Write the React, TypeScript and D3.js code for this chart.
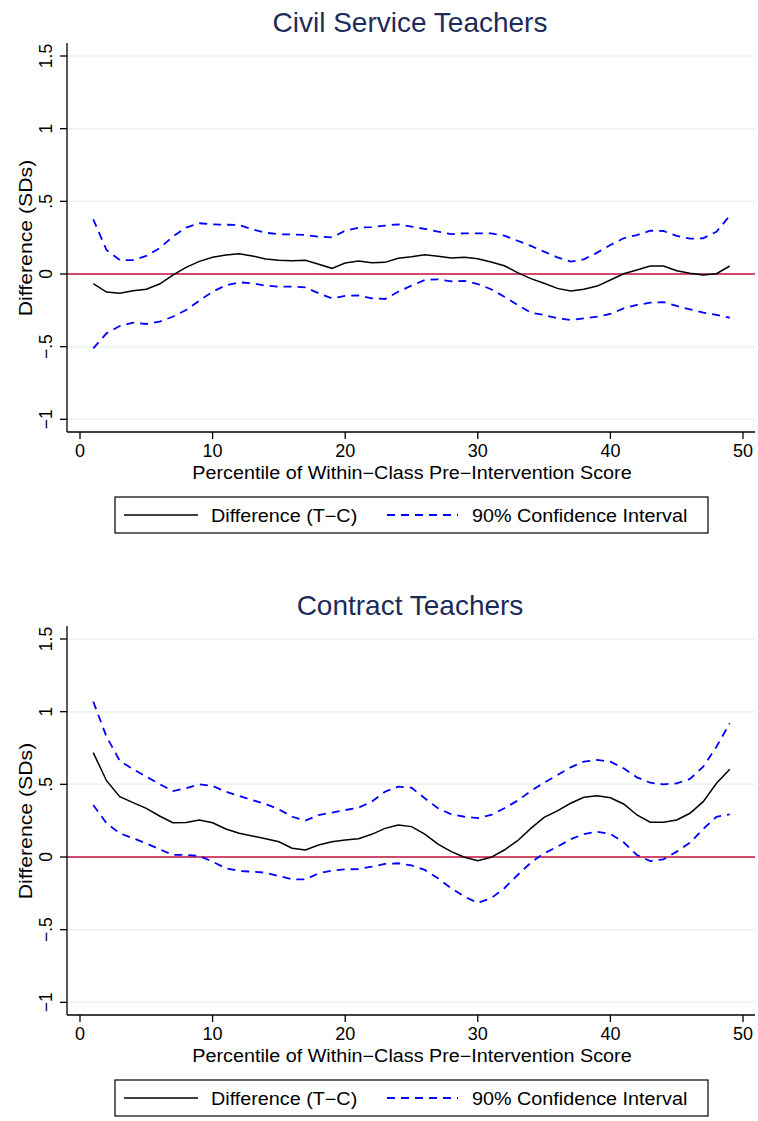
import React, { useEffect } from "react";
import * as d3 from "d3";

const percentiles = d3.range(1, 50);
const yTicks = [-1, -0.5, 0, 0.5, 1, 1.5];
const yTickLabels = ["\u22121", "\u2212.5", "0", ".5", "1", "1.5"];
const xTicks = [0, 10, 20, 30, 40, 50];

const civilDiff = [
  -0.067, -0.124, -0.133, -0.115, -0.105, -0.069, -0.007, 0.046, 0.087, 0.115,
  0.131, 0.14, 0.124, 0.103, 0.094, 0.092, 0.094, 0.067, 0.039, 0.076,
  0.089, 0.078, 0.08, 0.108, 0.119, 0.133, 0.122, 0.11, 0.115, 0.105,
  0.083, 0.057, 0.009, -0.032, -0.064, -0.099, -0.117, -0.105, -0.083, -0.041,
  0.002, 0.028, 0.055, 0.055, 0.023, 0.005, -0.007, 0.002, 0.055,
];
const civilUpper = [
  0.376, 0.165, 0.096, 0.096, 0.124, 0.177, 0.257, 0.319, 0.349, 0.342,
  0.339, 0.337, 0.307, 0.284, 0.273, 0.273, 0.268, 0.257, 0.252, 0.298,
  0.319, 0.323, 0.333, 0.342, 0.326, 0.31, 0.291, 0.275, 0.28, 0.28,
  0.28, 0.264, 0.229, 0.193, 0.154, 0.115, 0.085, 0.101, 0.147, 0.2,
  0.246, 0.268, 0.298, 0.296, 0.262, 0.243, 0.246, 0.291, 0.401,
];
const civilLower = [
  -0.512, -0.408, -0.358, -0.335, -0.344, -0.328, -0.294, -0.248, -0.184, -0.122,
  -0.078, -0.057, -0.064, -0.08, -0.087, -0.087, -0.092, -0.133, -0.167, -0.151,
  -0.147, -0.167, -0.172, -0.122, -0.08, -0.041, -0.037, -0.05, -0.048, -0.069,
  -0.105, -0.156, -0.213, -0.266, -0.282, -0.305, -0.317, -0.305, -0.294, -0.275,
  -0.236, -0.213, -0.197, -0.193, -0.22, -0.243, -0.266, -0.282, -0.301,
];

const contractDiff = [
  0.718, 0.525, 0.415, 0.374, 0.335, 0.282, 0.236, 0.238, 0.255, 0.236,
  0.193, 0.163, 0.145, 0.126, 0.105, 0.06, 0.048, 0.083, 0.105, 0.117,
  0.126, 0.156, 0.197, 0.22, 0.209, 0.158, 0.089, 0.037, -0.002, -0.025,
  -0.002, 0.048, 0.112, 0.197, 0.273, 0.317, 0.37, 0.411, 0.422, 0.408,
  0.365, 0.289, 0.239, 0.239, 0.255, 0.301, 0.381, 0.507, 0.604,
];
const contractUpper = [
  1.069, 0.828, 0.661, 0.604, 0.553, 0.502, 0.454, 0.473, 0.5, 0.489,
  0.449, 0.42, 0.392, 0.365, 0.328, 0.277, 0.25, 0.289, 0.305, 0.323,
  0.339, 0.381, 0.449, 0.484, 0.477, 0.404, 0.335, 0.294, 0.277, 0.268,
  0.289, 0.335, 0.388, 0.454, 0.511, 0.564, 0.617, 0.656, 0.668, 0.656,
  0.61, 0.548, 0.511, 0.5, 0.507, 0.537, 0.621, 0.759, 0.92,
];
const contractLower = [
  0.358, 0.232, 0.163, 0.129, 0.094, 0.053, 0.014, 0.014, 0.007, -0.032,
  -0.078, -0.096, -0.101, -0.108, -0.131, -0.154, -0.154, -0.112, -0.094, -0.085,
  -0.083, -0.067, -0.048, -0.043, -0.058, -0.089, -0.147, -0.215, -0.273, -0.315,
  -0.284, -0.215, -0.124, -0.039, 0.025, 0.071, 0.122, 0.158, 0.174, 0.158,
  0.101, 0.014, -0.028, -0.016, 0.037, 0.098, 0.193, 0.277, 0.294,
];

const legendLabels = ["Difference (T\u2212C)", "90% Confidence Interval"];
const xTitle = "Percentile of Within\u2212Class Pre\u2212Intervention Score";
const yTitle = "Difference (SDs)";

const FONT = "'Liberation Sans', Arial, Helvetica, sans-serif";
const TITLE_COLOR = "#1c2b58";
const GRID = "#eaf1f3";
const SX = 1.13;

type PanelProps = {
  title: string;
  top: number;
  diff: number[];
  upper: number[];
  lower: number[];
};

function Panel({ title, top, diff, upper, lower }: PanelProps) {
  const plotLeft = 67;
  const plotRight = 755;
  const axisTop = 43;
  const axisBottom = 432;
  const x = d3.scaleLinear().domain([0, 50]).range([80, 743]);
  const y = d3.scaleLinear().domain([0, 1.5]).range([274, 56]);
  const line = d3
    .line<number>()
    .x((_, i) => x(percentiles[i]))
    .y((d) => y(d));

  return (
    <g transform={`translate(0,${top})`} fontFamily={FONT}>
      <text x={410} y={32} textAnchor="middle" fontSize={28} fill={TITLE_COLOR}>
        {title}
      </text>
      {yTicks.map((t) => (
        <line key={"g" + t} x1={plotLeft} x2={plotRight} y1={y(t)} y2={y(t)} stroke={GRID} strokeWidth={1.5} />
      ))}
      <line x1={plotLeft} x2={plotRight} y1={y(0)} y2={y(0)} stroke="#c8103c" strokeWidth={1.6} />
      <path d={line(upper) || ""} fill="none" stroke="#0000ff" strokeWidth={1.8} strokeDasharray="8,6" />
      <path d={line(lower) || ""} fill="none" stroke="#0000ff" strokeWidth={1.8} strokeDasharray="8,6" />
      <path d={line(diff) || ""} fill="none" stroke="#000" strokeWidth={1.5} />
      {/* y axis */}
      <line x1={plotLeft} x2={plotLeft} y1={axisTop} y2={axisBottom} stroke="#000" strokeWidth={1.3} />
      {yTicks.map((t, i) => (
        <g key={"yt" + t}>
          <line x1={plotLeft - 7} x2={plotLeft} y1={y(t)} y2={y(t)} stroke="#000" strokeWidth={1.3} />
          <text
            transform={`translate(${52},${y(t)}) rotate(-90)`}
            textAnchor="middle"
            fontSize={17.5}
            fill="#000"
          >
            {yTickLabels[i]}
          </text>
        </g>
      ))}
      <text transform={`translate(32,${238}) rotate(-90) scale(1.18,1)`} textAnchor="middle" fontSize={18} fill="#000">
        {yTitle}
      </text>
      {/* x axis */}
      <line x1={plotLeft} x2={plotRight} y1={axisBottom} y2={axisBottom} stroke="#000" strokeWidth={1.3} />
      {xTicks.map((t) => (
        <g key={"xt" + t}>
          <line x1={x(t)} x2={x(t)} y1={axisBottom} y2={axisBottom + 7} stroke="#000" strokeWidth={1.3} />
          <text x={x(t)} y={457} textAnchor="middle" fontSize={18} fill="#000">
            {t}
          </text>
        </g>
      ))}
      <text transform={`translate(412,479) scale(${SX},1)`} textAnchor="middle" fontSize={17.5} fill="#000">
        {xTitle}
      </text>
      {/* legend */}
      <rect x={115} y={497} width={593} height={36} fill="#fff" stroke="#000" strokeWidth={1.2} />
      <line x1={124} x2={198} y1={515} y2={515} stroke="#000" strokeWidth={1.5} />
      <text transform={`translate(211,522) scale(${SX},1)`} fontSize={17.5} fill="#000">
        {legendLabels[0]}
      </text>
      <line x1={387} x2={458} y1={515} y2={515} stroke="#0000ff" strokeWidth={1.8} strokeDasharray="8,6" />
      <text transform={`translate(472,522) scale(${SX},1)`} fontSize={17.5} fill="#000">
        {legendLabels[1]}
      </text>
    </g>
  );
}

export default function App() {
  useEffect(() => {
    document.body.style.margin = "0";
  }, []);
  return (
    <svg width={758} height={1121} style={{ display: "block", background: "#fff" }}>
      <rect x={0} y={0} width={758} height={1121} fill="#fff" />
      <Panel title="Civil Service Teachers" top={0} diff={civilDiff} upper={civilUpper} lower={civilLower} />
      <Panel title="Contract Teachers" top={583} diff={contractDiff} upper={contractUpper} lower={contractLower} />
    </svg>
  );
}
